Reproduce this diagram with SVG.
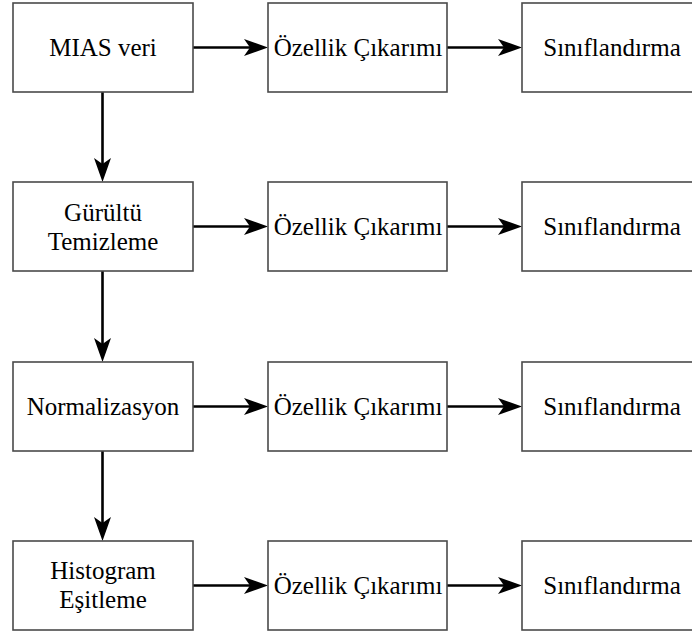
<svg xmlns="http://www.w3.org/2000/svg" width="692" height="634" viewBox="0 0 692 634">
<style>
.box{fill:#fff;stroke:#4a4a4a;stroke-width:1.6}
.lbl{font-family:'Liberation Serif','Times New Roman',Times,'DejaVu Serif',serif;font-size:25px;fill:#000;text-anchor:middle}
.edge{stroke:#000;stroke-width:2.6;fill:none}
</style>
<defs>
<marker id="arr" markerUnits="userSpaceOnUse" markerWidth="26" markerHeight="20" viewBox="0 -10 26 20" refX="6" refY="0" orient="auto">
<path d="M0,-8.5 L24,0 L0,8.5 L6,0 Z" fill="#000"/>
</marker>
</defs>
<rect width="692" height="634" fill="#fff"/>
<g id="connectors">
<line class="edge" x1="193" y1="47.5" x2="250" y2="47.5" marker-end="url(#arr)"/>
<line class="edge" x1="447" y1="47.5" x2="504" y2="47.5" marker-end="url(#arr)"/>
<line class="edge" x1="193" y1="226.5" x2="250" y2="226.5" marker-end="url(#arr)"/>
<line class="edge" x1="447" y1="226.5" x2="504" y2="226.5" marker-end="url(#arr)"/>
<line class="edge" x1="193" y1="406.5" x2="250" y2="406.5" marker-end="url(#arr)"/>
<line class="edge" x1="447" y1="406.5" x2="504" y2="406.5" marker-end="url(#arr)"/>
<line class="edge" x1="193" y1="585.5" x2="250" y2="585.5" marker-end="url(#arr)"/>
<line class="edge" x1="447" y1="585.5" x2="504" y2="585.5" marker-end="url(#arr)"/>
<line class="edge" x1="102.5" y1="92" x2="102.5" y2="164" marker-end="url(#arr)"/>
<line class="edge" x1="102.5" y1="271" x2="102.5" y2="344" marker-end="url(#arr)"/>
<line class="edge" x1="102.5" y1="451" x2="102.5" y2="523" marker-end="url(#arr)"/>
</g>
<g font-family="Liberation Serif, Times New Roman, DejaVu Serif, serif">
<g id="mias"><rect class="box" x="13" y="3" width="180" height="89"/><text class="lbl" x="103" y="56">MIAS veri</text></g>
<g id="oz1"><rect class="box" x="268" y="3" width="179" height="89"/><text class="lbl" x="358" y="56">Özellik Çıkarımı</text></g>
<g id="sin1"><rect class="box" x="522" y="3" width="180" height="89"/><text class="lbl" x="612" y="56">Sınıflandırma</text></g>
<g id="gurultu"><rect class="box" x="13" y="182" width="180" height="89"/><text class="lbl" x="103" y="221">Gürültü</text><text class="lbl" x="103" y="250">Temizleme</text></g>
<g id="oz2"><rect class="box" x="268" y="182" width="179" height="89"/><text class="lbl" x="358" y="235">Özellik Çıkarımı</text></g>
<g id="sin2"><rect class="box" x="522" y="182" width="180" height="89"/><text class="lbl" x="612" y="235">Sınıflandırma</text></g>
<g id="norm"><rect class="box" x="13" y="362" width="180" height="89"/><text class="lbl" x="103" y="415">Normalizasyon</text></g>
<g id="oz3"><rect class="box" x="268" y="362" width="179" height="89"/><text class="lbl" x="358" y="415">Özellik Çıkarımı</text></g>
<g id="sin3"><rect class="box" x="522" y="362" width="180" height="89"/><text class="lbl" x="612" y="415">Sınıflandırma</text></g>
<g id="hist"><rect class="box" x="13" y="541" width="180" height="89"/><text class="lbl" x="103" y="579">Histogram</text><text class="lbl" x="103" y="608">Eşitleme</text></g>
<g id="oz4"><rect class="box" x="268" y="541" width="179" height="89"/><text class="lbl" x="358" y="594">Özellik Çıkarımı</text></g>
<g id="sin4"><rect class="box" x="522" y="541" width="180" height="89"/><text class="lbl" x="612" y="594">Sınıflandırma</text></g>
</g>
</svg>
